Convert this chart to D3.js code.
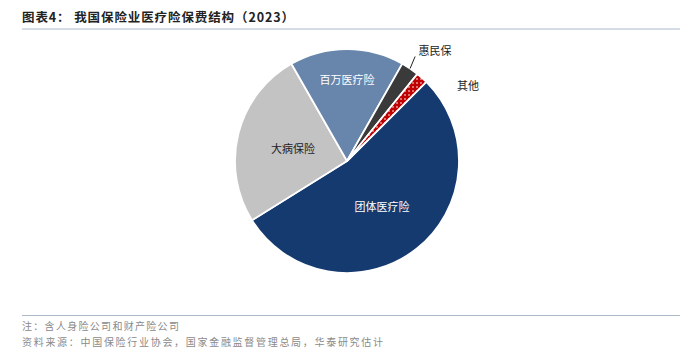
<!DOCTYPE html>
<html>
<head>
<meta charset="utf-8">
<script src="https://cdn.jsdelivr.net/npm/d3@7"></script>
<style>
  body { margin: 0; background: #fff; }
  text { font-family: "Noto Sans CJK SC", "Noto Sans", sans-serif; }
</style>
</head>
<body>
<div id="chart"></div>
<script>
// 2023 medical insurance premium structure (share, %)
var categories = ["团体医疗险", "大病保险", "百万医疗险", "惠民保", "其他"];
var shares = [53.6, 25.6, 16.5, 2.6, 1.7];
var colors = ["#153a70", "#c3c3c3", "#6885ab", "#3a3a3a", "#c00000"];
var title = "图表4：  我国保险业医疗险保费结构（2023）";
var notes = ["注：含人身险公司和财产险公司",
  "资料来源：中国保险行业协会，国家金融监督管理总局，华泰研究估计"];

var width = 696, height = 355;
var cx = 347, cy = 161, radius = 112;

var svg = d3.select("#chart").append("svg")
  .attr("width", width)
  .attr("height", height);

// dotted pattern for the small "other" slice
var pat = svg.append("defs").append("pattern")
  .attr("id", "dots")
  .attr("width", 4).attr("height", 4)
  .attr("patternUnits", "userSpaceOnUse");
pat.append("rect").attr("width", 4).attr("height", 4).attr("fill", colors[4]);
pat.append("circle").attr("cx", 2).attr("cy", 2).attr("r", 0.8).attr("fill", "#fff");

svg.append("text")
  .attr("x", 22).attr("y", 22)
  .attr("font-size", 12.5)
  .attr("font-weight", "bold")
  .attr("letter-spacing", 0.9)
  .attr("fill", "#222")
  .text(title);

svg.append("line")
  .attr("x1", 22).attr("x2", 680)
  .attr("y1", 29).attr("y2", 29)
  .attr("stroke", "#adb9cb").attr("stroke-width", 1.2);

var data = categories.map(function(c, i) { return { name: c, value: shares[i], i: i }; });

var pie = d3.pie()
  .sort(null)
  .value(function(d) { return d.value; })
  .startAngle(45.1 * Math.PI / 180)
  .endAngle((45.1 + 360) * Math.PI / 180);

var arc = d3.arc().innerRadius(0).outerRadius(radius);

var g = svg.append("g").attr("transform", "translate(" + cx + "," + cy + ")");

var arcs = pie(data);

g.selectAll("path.slice")
  .data(arcs)
  .enter().append("path")
  .attr("class", "slice")
  .attr("d", arc)
  .attr("fill", function(d) { return d.data.i === 4 ? "url(#dots)" : colors[d.data.i]; })
  .attr("stroke", "#fff")
  .attr("stroke-width", 1.8)
  .attr("stroke-linejoin", "round");

// inside labels
var labelPos = {
  "团体医疗险": [35, 46],
  "百万医疗险": [0, -81],
  "大病保险": [-54, -12]
};
var labelFill = { "团体医疗险": "#fff", "百万医疗险": "#fff", "大病保险": "#222" };

g.selectAll("text.inlabel")
  .data(arcs.filter(function(d) { return labelPos[d.data.name]; }))
  .enter().append("text")
  .attr("class", "inlabel")
  .attr("x", function(d) { return labelPos[d.data.name][0]; })
  .attr("y", function(d) { return labelPos[d.data.name][1]; })
  .attr("text-anchor", "middle")
  .attr("dy", "0.35em")
  .attr("font-size", 11)
  .attr("fill", function(d) { return labelFill[d.data.name]; })
  .text(function(d) { return d.data.name; });

// outside labels for the two small slices
var edge = d3.arc().innerRadius(radius).outerRadius(radius);
var hm = arcs[3];
var p0 = edge.centroid(hm);
var p1 = [p0[0] + 5, p0[1] - 12];
g.append("line")
  .attr("x1", p0[0]).attr("y1", p0[1])
  .attr("x2", p1[0]).attr("y2", p1[1])
  .attr("stroke", "#222").attr("stroke-width", 1);
g.append("text")
  .attr("x", p1[0] + 3.5).attr("y", p1[1] - 1)
  .attr("font-size", 11).attr("fill", "#222")
  .text(hm.data.name);

var ot = arcs[4];
var p2 = edge.centroid(ot);
g.append("text")
  .attr("x", p2[0] + 35).attr("y", p2[1] + 12)
  .attr("font-size", 11).attr("fill", "#222")
  .text(ot.data.name);

// footer
svg.append("line")
  .attr("x1", 22).attr("x2", 680)
  .attr("y1", 315.5).attr("y2", 315.5)
  .attr("stroke", "#adb9cb").attr("stroke-width", 1.2);

svg.selectAll("text.note")
  .data(notes)
  .enter().append("text")
  .attr("class", "note")
  .attr("x", 22)
  .attr("y", function(d, i) { return 330 + i * 16; })
  .attr("font-size", 10)
  .attr("letter-spacing", function(d, i) { return i ? 1.7 : 1.3; })
  .attr("fill", "#8a8a8a")
  .text(function(d) { return d; });
</script>
</body>
</html>
